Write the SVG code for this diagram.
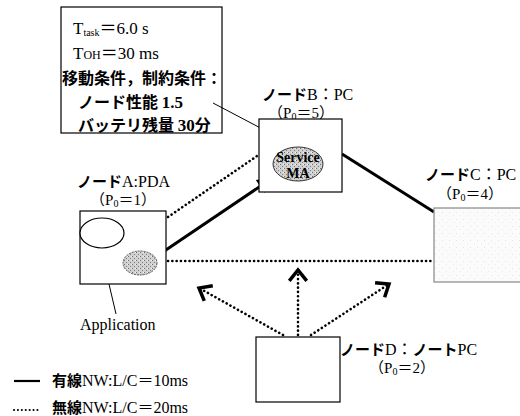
<svg xmlns="http://www.w3.org/2000/svg" width="520" height="416" viewBox="0 0 520 416">
<defs>
<pattern id="stip" width="4" height="4" patternUnits="userSpaceOnUse">
<rect width="4" height="4" fill="#d0d0d0"/>
<rect x="0" y="0" width="1" height="1" fill="#707070"/>
<rect x="2" y="2" width="1" height="1" fill="#808080"/>
<rect x="3" y="0" width="1" height="1" fill="#f0f0f0"/>
</pattern>
<pattern id="light" width="7" height="7" patternUnits="userSpaceOnUse">
<rect width="7" height="7" fill="#fbfbfb"/>
<rect x="1" y="2" width="1" height="1" fill="#e4e4e4"/>
<rect x="5" y="5" width="1" height="1" fill="#ebebeb"/>
</pattern>
<marker id="chev" markerUnits="userSpaceOnUse" markerWidth="24" markerHeight="24" refX="0" refY="0" viewBox="-13 -11 16 22" orient="auto">
<path d="M-10,-8 L0,0 L-10,8" fill="none" stroke="#000" stroke-width="3.2" stroke-linejoin="miter"/>
</marker>
<marker id="tri" markerUnits="userSpaceOnUse" markerWidth="20" markerHeight="20" refX="0" refY="0" viewBox="-16 -8 18 16" orient="auto">
<path d="M-15,-7 L0,0 L-15,7 Z" fill="#000"/>
</marker>
</defs>
<style>
text{font-family:"Liberation Serif","Noto Sans CJK JP",serif;fill:#000}
.t{font-size:17px}
.lb{font-size:16px}
.p{font-size:15px;text-anchor:middle}
.jp{font-family:"Noto Sans CJK JP","Liberation Serif",sans-serif;font-weight:bold}
.box{fill:#fff;stroke:#000;stroke-width:1.2}
.wired{stroke:#000;stroke-width:3;fill:none}
.wl{stroke:#000;stroke-width:2.6;stroke-dasharray:0.1 4.2;stroke-linecap:round;fill:none}
.thin{stroke:#000;stroke-width:1;fill:none}
</style>

<g id="info">
<rect x="61" y="7" width="161" height="126" class="box"/>
<text x="73" y="34" class="t">T<tspan font-size="10" dy="2">task</tspan><tspan dy="-2">＝6.0 s</tspan></text>
<text x="73" y="59" class="t">T<tspan font-size="12">OH</tspan>＝30 ms</text>
<text x="62" y="84" class="jp" font-size="16">移動条件，制約条件：</text>
<text x="78" y="108" class="jp" font-size="16">ノード性能 <tspan font-family="Liberation Serif" font-size="17">1.5</tspan></text>
<text x="78" y="131" class="jp" font-size="16">バッテリ残量 <tspan font-family="Liberation Serif" font-size="17">30</tspan>分</text>
</g>

<g id="connectors">
<line x1="213" y1="103" x2="289" y2="143" class="thin"/>
<line x1="98" y1="237" x2="116" y2="314" class="thin"/>
<line x1="157" y1="256" x2="274" y2="177" class="wired" marker-end="url(#tri)"/>
<line x1="342" y1="154" x2="434" y2="212" class="wired"/>
<line x1="168" y1="217" x2="257" y2="156" class="wl"/>
<line x1="168" y1="261" x2="433" y2="261" class="wl"/>
<line x1="283" y1="335" x2="199" y2="288" class="wl" marker-end="url(#chev)"/>
<line x1="298" y1="335" x2="298" y2="270" class="wl" marker-end="url(#chev)"/>
<line x1="311" y1="335" x2="389" y2="284" class="wl" marker-end="url(#chev)"/>
</g>

<g id="nodeA">
<text x="77" y="187" class="lb"><tspan class="jp" font-size="15">ノード</tspan>A:PDA</text>
<text x="123" y="205" class="p">（P<tspan font-size="10" dy="2">0</tspan><tspan dy="-2">＝1）</tspan></text>
<rect x="80" y="211" width="86" height="73" class="box"/>
<ellipse cx="102" cy="233" rx="22" ry="15" fill="#fff" stroke="#000" stroke-width="1.2"/>
<ellipse cx="140" cy="263" rx="17" ry="12" fill="url(#stip)" stroke="#555" stroke-width="1" stroke-dasharray="2 1"/>
</g>

<g id="nodeB">
<text x="262" y="100" class="lb"><tspan class="jp" font-size="15">ノード</tspan>B：PC</text>
<text x="301" y="118" class="p">（P<tspan font-size="10" dy="2">0</tspan><tspan dy="-2">＝5）</tspan></text>
<rect x="259" y="119" width="83" height="73" class="box"/>
<ellipse cx="298" cy="164" rx="25" ry="17" fill="url(#stip)" stroke="#333" stroke-width="1"/>
<text x="298" y="162" font-size="14" font-weight="bold" text-anchor="middle">Service</text>
<text x="298" y="178" font-size="14" font-weight="bold" text-anchor="middle">MA</text>
</g>

<g id="nodeC">
<text x="425" y="180" class="lb"><tspan class="jp" font-size="15">ノード</tspan>C：PC</text>
<text x="470" y="199" class="p">（P<tspan font-size="10" dy="2">0</tspan><tspan dy="-2">＝4）</tspan></text>
<rect x="434" y="208" width="88" height="74" fill="url(#light)" stroke="#888" stroke-width="1.2"/>
</g>

<g id="nodeD">
<rect x="256" y="337" width="84" height="65" class="box"/>
<text x="340" y="355" class="lb"><tspan class="jp" font-size="15">ノード</tspan>D：<tspan class="jp" font-size="15">ノート</tspan>PC</text>
<text x="402" y="373" class="p">（P<tspan font-size="10" dy="2">0</tspan><tspan dy="-2">＝2）</tspan></text>
</g>

<g id="app">
<text x="80" y="330" font-size="16">Application</text>
</g>

<g id="legend">
<line x1="14" y1="381" x2="40" y2="381" stroke="#000" stroke-width="2.2"/>
<text x="52" y="386" font-size="16"><tspan class="jp" font-size="15">有線</tspan>NW:L/C＝10ms</text>
<line x1="14" y1="410" x2="40" y2="410" stroke="#000" stroke-width="2" stroke-dasharray="0.1 3.8" stroke-linecap="round"/>
<text x="52" y="413" font-size="16"><tspan class="jp" font-size="15">無線</tspan>NW:L/C＝20ms</text>
</g>
</svg>
